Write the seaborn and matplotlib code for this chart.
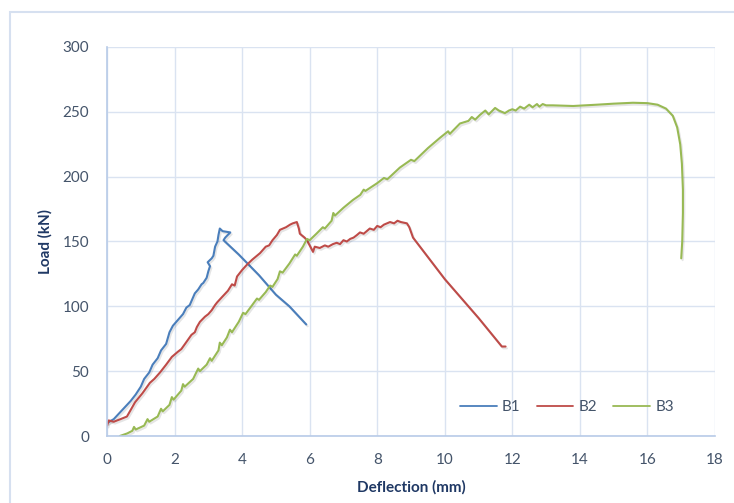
import matplotlib
matplotlib.use("Agg")
import matplotlib.pyplot as plt
import matplotlib.patheffects as pe
from matplotlib.patches import Rectangle
import seaborn as sns
import pandas as pd

# ---- data ----
b1_x = [0, 0.2, 0.45, 0.7, 0.85, 1.0, 1.1, 1.25, 1.35, 1.5, 1.6, 1.75, 1.85, 1.95, 2.05,
        2.15, 2.25, 2.35, 2.45, 2.55, 2.6, 2.7, 2.8, 2.85, 2.95, 3.0, 3.05, 2.98, 3.1,
        3.15, 3.2, 3.27, 3.3, 3.34, 3.42, 3.65, 3.5, 3.45, 3.9, 4.5, 5.0, 5.4, 5.9]
b1_y = [10, 13, 20, 27, 32, 38, 44, 49, 55, 60, 66, 71, 80, 85, 88,
        91, 94, 99, 101, 107, 110, 113, 117, 118, 122, 127, 131, 134, 137,
        139, 146, 150, 155, 160, 158, 157, 153, 151, 140, 124, 109, 100, 86]

b2_x = [0, 0.05, 0.2, 0.4, 0.59, 0.7, 0.83, 1.05, 1.27, 1.4, 1.57, 1.75, 1.92, 2.1, 2.2,
        2.31, 2.5, 2.6, 2.66, 2.75, 2.9, 3.0, 3.1, 3.2, 3.26, 3.4, 3.58, 3.7, 3.78, 3.85,
        4.0, 4.14, 4.3, 4.53, 4.7, 4.8, 4.9, 5.03, 5.12, 5.3, 5.42, 5.5, 5.62, 5.68, 5.71,
        5.85, 5.92, 6.0, 6.1, 6.15, 6.3, 6.45, 6.55, 6.69, 6.8, 6.9, 7.0, 7.1, 7.2, 7.3,
        7.4, 7.49, 7.6, 7.78, 7.9, 8.0, 8.1, 8.2, 8.38, 8.5, 8.6, 8.7, 8.88, 8.95, 9.06,
        10.0, 11.0, 11.69, 11.8]
b2_y = [8, 12, 11, 13, 15, 20, 26, 33, 41, 44, 49, 55, 61, 65, 67,
        71, 78, 80, 84, 88, 92, 94, 97, 101, 103, 107, 112, 117, 116, 123,
        128, 132, 136, 141, 146, 147, 151, 155, 159, 161, 163, 164, 165, 160, 156,
        153, 151, 147, 142, 146, 145, 147, 146, 148, 149, 148, 151, 150, 152, 153,
        155, 157, 156, 160, 159, 162, 161, 163, 165, 164, 166, 165, 164, 161, 153,
        121, 91, 69, 69]

b3_x = [0.38, 0.6, 0.75, 0.8, 0.85, 1.1, 1.2, 1.25, 1.5, 1.6, 1.65, 1.85, 1.92, 1.97,
        2.2, 2.25, 2.3, 2.55, 2.7, 2.75, 2.95, 3.05, 3.1, 3.3, 3.34, 3.4, 3.55, 3.64, 3.7,
        3.9, 4.03, 4.1, 4.3, 4.44, 4.5, 4.7, 4.83, 4.9, 5.05, 5.12, 5.2, 5.4, 5.57, 5.62,
        5.8, 5.92, 6.0, 6.2, 6.39, 6.45, 6.65, 6.7, 6.75, 7.0, 7.28, 7.5, 7.6, 7.65, 8.0,
        8.2, 8.3, 8.67, 9.0, 9.1, 9.5, 9.86, 10.1, 10.15, 10.45, 10.7, 10.8, 10.9, 11.04,
        11.2, 11.3, 11.49, 11.6, 11.78, 11.9, 12.0, 12.1, 12.23, 12.35, 12.5, 12.6, 12.73,
        12.8, 12.9, 13.0, 13.2, 13.8, 14.5, 15.0, 15.57, 16.0, 16.3, 16.55, 16.75, 16.88,
        16.97, 17.02, 17.05, 17.05, 17.03, 17.0]
b3_y = [0, 2, 4, 7, 5, 8, 13, 11, 15, 21, 19, 24, 30, 28,
        35, 40, 38, 44, 52, 50, 55, 60, 58, 66, 72, 70, 76, 82, 80,
        88, 95, 94, 101, 106, 105, 111, 116, 115, 121, 127, 126, 133, 140, 139,
        146, 152, 151, 156, 161, 160, 166, 172, 170, 176, 182, 186, 190, 189, 195,
        199, 198, 207, 213, 212, 222, 230, 235, 233, 241, 243, 246, 244, 247.6,
        251, 248, 253, 251, 249, 251, 252, 251, 254, 252.5, 255.5, 253.5, 256,
        254, 256, 255, 255, 254.5, 255.5, 256.3, 257, 256.7, 255.5, 252.5, 247, 238,
        225, 210, 190, 172, 150, 137]

series_names = ["B1", "B2", "B3"]
colors = ["#4a7ebb", "#be4b48", "#98b954"]

# ---- build long table ----
frames = []
for name, xs, ys in zip(series_names, [b1_x, b2_x, b3_x], [b1_y, b2_y, b3_y]):
    frames.append(pd.DataFrame({"Deflection": xs, "Load": ys, "Beam": name}))
df = pd.concat(frames, ignore_index=True)

sns.set_theme(style="white")
plt.rcParams["font.family"] = ["Lato", "DejaVu Sans"]

fig = plt.figure(figsize=(7.34, 5.03), dpi=100)
ax = fig.add_axes([107 / 734, 1 - 436 / 503, (715 - 107) / 734, (436 - 47) / 503])

for name, c in zip(series_names, colors):
    sub = df[df["Beam"] == name]
    sns.lineplot(data=sub, x="Deflection", y="Load", sort=False, estimator=None,
                 color=c, linewidth=1.5, ax=ax, label=name,
                 path_effects=[pe.SimpleLineShadow(offset=(1.0, -1.3), alpha=0.1,
                                                   shadow_color="black"),
                               pe.Normal()])

grid_c = "#dae3f1"
ax.set_xlim(0, 18)
ax.set_ylim(0, 300)
ax.set_xticks(range(0, 19, 2))
ax.set_yticks(range(0, 301, 50))
ax.grid(True, color=grid_c, linewidth=1.0)
ax.set_axisbelow(True)
for s in ["top", "right"]:
    ax.spines[s].set_visible(False)
for s in ["left", "bottom"]:
    ax.spines[s].set_color("#b8cbe8")
    ax.spines[s].set_linewidth(1.2)

tick_c = "#44546a"
ax.tick_params(axis="both", length=0, labelsize=11, colors=tick_c)
ax.tick_params(axis="y", pad=13)
ax.tick_params(axis="x", pad=12)

label_c = "#1f3864"
ax.set_xlabel("Deflection (mm)", fontsize=11, fontweight="bold", color=label_c, labelpad=10)
ax.set_ylabel("Load (kN)", fontsize=11, fontweight="bold", color=label_c, labelpad=7)

leg = ax.legend(loc="lower right", bbox_to_anchor=(0.955, 0.02), ncol=3, frameon=False,
                fontsize=11, handlelength=2.4, columnspacing=1.05, handletextpad=0.35)
for t in leg.get_texts():
    t.set_color(tick_c)
for h in leg.get_lines():
    h.set_linewidth(1.3)
    h.set_path_effects([])

# outer chart border
fig.patches.append(Rectangle((10 / 734, -0.2), 1.2, 1 - 12 / 503 + 0.2,
                             transform=fig.transFigure, fill=False,
                             edgecolor="#d6e0f0", linewidth=1.5))

fig.savefig("out.png", dpi=100)
